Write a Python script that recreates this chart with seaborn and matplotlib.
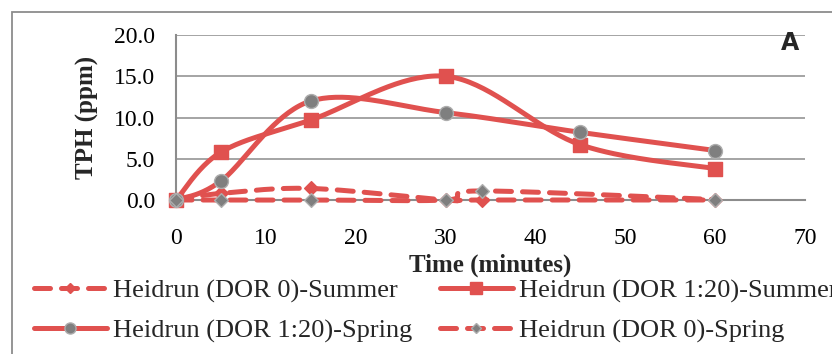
import numpy as np
import pandas as pd
import matplotlib
matplotlib.use("Agg")
import matplotlib.pyplot as plt
from matplotlib.lines import Line2D
from matplotlib.patches import Rectangle
import seaborn as sns

# ---- data ----
names = ["Heidrun (DOR 0)-Summer", "Heidrun (DOR 1:20)-Summer",
         "Heidrun (DOR 1:20)-Spring", "Heidrun (DOR 0)-Spring"]
x_s0 = [0, 5, 15, 30, 34, 60]
y_s0 = [0.0, 0.8, 1.4, 0.0, 0.0, 0.0]
x_s20 = [0, 5, 15, 30, 45, 60]
y_s20 = [0.0, 5.8, 9.7, 15.0, 6.7, 3.8]
x_p20 = [0, 5, 15, 30, 45, 60]
y_p20 = [0.0, 2.3, 12.0, 10.6, 8.2, 6.0]
x_p0 = [0, 5, 15, 30, 34, 60]
y_p0 = [0.0, 0.0, 0.0, 0.0, 1.1, 0.05]
x_ticks = [0, 10, 20, 30, 40, 50, 60, 70]
y_ticks = [0, 5, 10, 15, 20]

RED = "#E0514F"
GREY = "#7F7F7F"
LGREY = "#ADADAD"
DASH = (0, (3.2, 2.2))


def smooth(xs, ys, n=40):
    """Excel-style smoothed line (Catmull-Rom Bezier) through the points."""
    P = np.column_stack([xs, ys]).astype(float)
    out = []
    for i in range(len(P) - 1):
        p0 = P[i - 1] if i > 0 else P[i]
        p1, p2 = P[i], P[i + 1]
        p3 = P[i + 2] if i + 2 < len(P) else P[i + 1]
        c1 = p1 + (p2 - p0) / 6.0
        c2 = p2 - (p3 - p1) / 6.0
        t = np.linspace(0, 1, n)[:, None]
        seg = ((1 - t) ** 3) * p1 + 3 * ((1 - t) ** 2) * t * c1 + 3 * (1 - t) * t ** 2 * c2 + t ** 3 * p2
        out.append(seg if i == 0 else seg[1:])
    S = np.vstack(out)
    return S[:, 0], S[:, 1]


sns.set_style("white")
plt.rcParams["font.family"] = ["Liberation Serif", "DejaVu Serif"]

fig = plt.figure(figsize=(8.32, 3.54), dpi=100)
ax = fig.add_axes([176 / 832, 1 - 200 / 354, (805 - 176) / 832, (200 - 35) / 354])

# outer chart-area border
fig.patches.append(Rectangle((11.5 / 832, -0.1), 1.2, 1 - 12 / 354 + 0.1,
                             transform=fig.transFigure, fill=False,
                             edgecolor="#8C8C8C", linewidth=1.3, zorder=0))

series = [
    (x_s0, y_s0, DASH, "D", RED, RED, 7),
    (x_s20, y_s20, "-", "s", RED, RED, 10),
    (x_p20, y_p20, "-", "o", GREY, LGREY, 10),
    (x_p0, y_p0, DASH, "D", GREY, LGREY, 7),
]

for (xs, ys, ls, mk, fc, ec, ms) in series:
    sx, sy = smooth(xs, ys)
    df = pd.DataFrame({"x": sx, "y": sy})
    sns.lineplot(data=df, x="x", y="y", ax=ax, sort=False, estimator=None,
                 color=RED, linewidth=3.6, linestyle=ls, clip_on=False,
                 zorder=3, dash_capstyle="round", solid_capstyle="round")

for (xs, ys, ls, mk, fc, ec, ms) in series:
    dfm = pd.DataFrame({"x": xs, "y": ys})
    sns.scatterplot(data=dfm, x="x", y="y", ax=ax, marker=mk, s=ms ** 2,
                    color=fc, edgecolor=ec, linewidth=1.0, clip_on=False, zorder=4)

ax.set_xlim(0, 70)
ax.set_ylim(0, 20)
ax.set_xticks(x_ticks)
ax.set_yticks(y_ticks)
ax.set_xticklabels([str(v) for v in x_ticks])
ax.set_yticklabels([f"{v:.1f}" for v in y_ticks])
ax.grid(axis="y", color="#8C8C8C", linewidth=1.1)
ax.grid(axis="x", visible=False)
ax.set_axisbelow(True)
for s in ["top", "right"]:
    ax.spines[s].set_visible(False)
for s in ["left", "bottom"]:
    ax.spines[s].set_color("#8C8C8C")
    ax.spines[s].set_linewidth(1.5)
ax.tick_params(axis="both", which="major", labelsize=17, colors="#8C8C8C",
               labelcolor="black", length=5, width=1.2, direction="out")
ax.tick_params(axis="y", pad=10)
ax.tick_params(axis="x", pad=15)

ax.set_xlabel("Time (minutes)", fontsize=18, fontweight="bold")
ax.set_ylabel("TPH (ppm)", fontsize=18, fontweight="bold")
ax.xaxis.set_label_coords((490 - 176) / 629, (200 - 254) / 165)
ax.yaxis.set_label_coords((99 - 176) / 629, 0.5)

fig.text(799 / 832, 1 - 43 / 354, "A", fontsize=17, fontweight="bold",
         family="DejaVu Sans", ha="right", va="center")

handles = {}
for name, (xs, ys, ls, mk, fc, ec, ms) in zip(names, series):
    handles[name] = Line2D([0], [0], color=RED, linewidth=3.6, linestyle=ls,
                           dash_capstyle="round", solid_capstyle="round",
                           marker=mk, markersize=ms * 0.8, markerfacecolor=fc,
                           markeredgecolor=ec)
order = [names[0], names[2], names[1], names[3]]
fig.legend([handles[n] for n in order], order, ncol=2, loc="upper left",
           bbox_to_anchor=(34 / 832, 1 - 279 / 354), frameon=False,
           fontsize=19, handlelength=2.75, handletextpad=0.25,
           columnspacing=1.05, labelspacing=0.6, borderaxespad=0, borderpad=0)

fig.savefig("out.png", dpi=100)
